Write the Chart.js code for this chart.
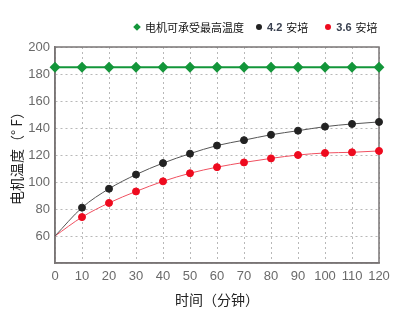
<!DOCTYPE html>
<html>
<head>
<meta charset="utf-8">
<script src="https://cdn.jsdelivr.net/npm/chart.js@4"></script>
<style>
  html, body { margin: 0; padding: 0; background: #fff; }
  #wrap { position: relative; width: 400px; height: 332px; }
  #legend {
    position: absolute; top: 19px; left: 134px;
    display: flex; align-items: center;
    font: 11px "Noto Sans CJK SC", sans-serif; color: #111;
    white-space: nowrap;
  }
  #legend .item { display: flex; align-items: center; }
  #legend .mark { width: 6px; height: 6px; margin-right: 5px; }
  #legend .num { font-weight: bold; color: #3a4150; margin-right: 4px; font-family: "Liberation Sans", sans-serif; font-size: 11px; }
</style>
</head>
<body>
<div id="wrap">
  <canvas id="tempChart" width="400" height="332"></canvas>
  <div id="legend"></div>
</div>
<script>
// Motor temperature over time
const minutes = [0, 10, 20, 30, 40, 50, 60, 70, 80, 90, 100, 110, 120];
const maxTemp = [185, 185, 185, 185, 185, 185, 185, 185, 185, 185, 185, 185, 185];
const temp42A = [60, 81, 95, 105.5, 114, 121, 127, 131, 135, 138, 141, 143, 144.5];
const temp36A = [60, 74, 84.5, 93, 100.5, 106.5, 111, 114.5, 117.5, 120, 121.5, 122, 123];
const yTicks = [40, 60, 80, 100, 120, 140, 160, 180, 200];

const toPoints = (vals) => vals.map((v, i) => ({ x: minutes[i], y: v }));

// first point of the heating curves has no marker
const skipFirst = (r) => (ctx) => ctx.dataIndex === 0 ? 0 : r;

const series = [
    { label: '电机可承受最高温度', data: toPoints(maxTemp), color: '#13963a', style: 'rectRot', width: 2, radius: 4, gap: 12 },
    { label: '4.2 安培', data: toPoints(temp42A), color: '#222222', style: 'circle', width: 1, radius: skipFirst(3.5), lineColor: '#555', gap: 17 },
    { label: '3.6 安培', data: toPoints(temp36A), color: '#ee0a1e', style: 'circle', width: 1, radius: skipFirst(3.5), lineColor: '#f05060', gap: 0 }
];

// plot frame (top and right edges too)
const frame = {
    id: 'frame',
    beforeDatasetsDraw(chart) {
        const { ctx, chartArea: a } = chart;
        ctx.save();
        ctx.strokeStyle = '#7a7576';
        ctx.lineWidth = 1.5;
        ctx.strokeRect(a.left, a.top, a.right - a.left, a.bottom - a.top);
        ctx.restore();
    }
};

const ctx = document.getElementById('tempChart').getContext('2d');
const chart = new Chart(ctx, {
    type: 'line',
    data: {
        datasets: series.map(s => ({
            label: s.label,
            data: s.data,
            borderColor: s.lineColor || s.color,
            backgroundColor: s.color,
            pointBackgroundColor: s.color,
            pointBorderColor: s.color,
            pointStyle: s.style,
            pointRadius: s.radius,
            borderWidth: s.width,
            cubicInterpolationMode: 'monotone',
            clip: false
        }))
    },
    plugins: [frame],
    options: {
        responsive: false,
        animation: false,
        layout: { padding: { top: 47, right: 21, left: 4, bottom: 24 } },
        plugins: {
            legend: { display: false },
            tooltip: { enabled: false }
        },
        scales: {
            x: {
                type: 'linear',
                min: 0,
                max: 120,
                afterFit: (scale) => { scale.height = 45; },
                ticks: {
                    stepSize: 10,
                    color: '#6a6a6a',
                    font: { family: 'Liberation Sans', size: 13 },
                    padding: 6,
                    maxRotation: 0
                },
                grid: { color: '#b8b8b8', drawTicks: false },
                border: { display: true, color: '#7a7576', width: 1.5, dash: [2, 3] },
                title: {
                    display: true,
                    text: '时间（分钟）',
                    color: '#222',
                    font: { family: 'Noto Sans CJK SC', size: 14 },
                    padding: { top: 0, bottom: 0 }
                }
            },
            y: {
                min: 40,
                max: 200,
                afterFit: (scale) => { scale.width = 51; },
                afterBuildTicks: (scale) => { scale.ticks = yTicks.map(v => ({ value: v })); },
                ticks: {
                    color: '#6a6a6a',
                    font: { family: 'Liberation Sans', size: 13 },
                    padding: 5,
                    callback: (v) => v === 40 ? '' : v
                },
                grid: { color: '#b8b8b8', drawTicks: false },
                border: { display: true, color: '#7a7576', width: 1.5, dash: [2, 3] },
                title: {
                    display: true,
                    text: '电机温度（° F）',
                    color: '#222',
                    font: { family: 'Noto Sans CJK SC', size: 14 },
                    padding: { bottom: 2 }
                }
            }
        }
    }
});

// legend row built from the datasets
const legend = document.getElementById('legend');
series.forEach(s => {
    const item = document.createElement('div');
    item.className = 'item';
    item.style.marginRight = s.gap + 'px';
    const mark = document.createElement('span');
    mark.className = 'mark';
    mark.style.background = s.color;
    if (s.style === 'rectRot') {
        mark.style.transform = 'rotate(45deg) scale(0.9)';
    } else {
        mark.style.borderRadius = '50%';
    }
    item.appendChild(mark);
    const parts = s.label.split(' ');
    if (parts.length > 1) {
        const num = document.createElement('span');
        num.className = 'num';
        num.textContent = parts[0];
        item.appendChild(num);
        item.appendChild(document.createTextNode(parts.slice(1).join(' ')));
    } else {
        item.appendChild(document.createTextNode(s.label));
    }
    legend.appendChild(item);
});
</script>
</body>
</html>
